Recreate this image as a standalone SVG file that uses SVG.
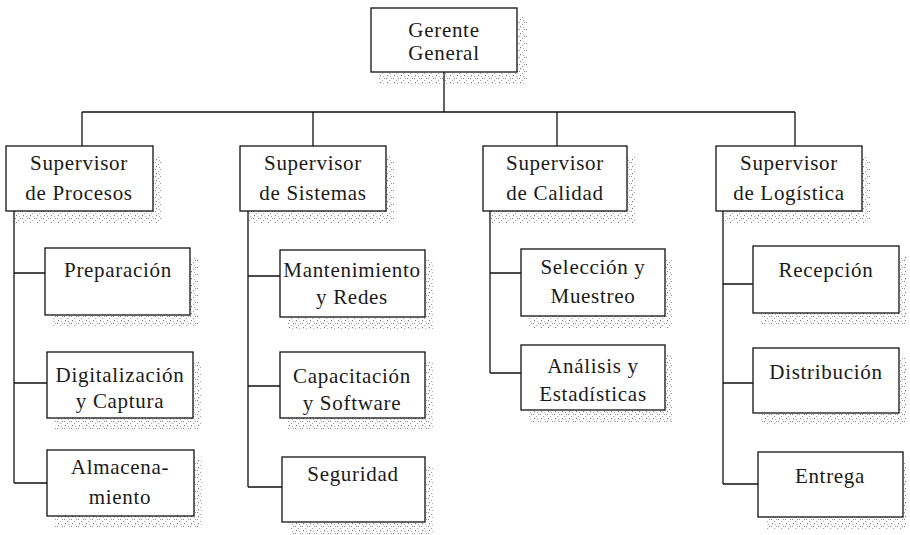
<svg xmlns="http://www.w3.org/2000/svg" width="910" height="535" viewBox="0 0 910 535">
  <defs>
    <pattern id="speckle" width="7" height="7" patternUnits="userSpaceOnUse">
      <rect x="1" y="1" width="1" height="1" fill="#8a8a8a"/>
      <rect x="4" y="3" width="1.2" height="1" fill="#a5a5a5"/>
      <rect x="2" y="5" width="1" height="1.2" fill="#777"/>
      <rect x="5" y="6" width="1" height="1" fill="#b0b0b0"/>
      <rect x="6" y="1" width="1" height="1" fill="#999"/>
    </pattern>
  </defs>
  <style>
    .shadow { fill: url(#speckle); stroke: none; }
    .box { fill: #ffffff; stroke: #111111; stroke-width: 1.3; }
    .lbl { font-family: 'Liberation Serif', 'Times New Roman', 'DejaVu Serif', serif; font-size: 21px; fill: #1a1a1a; text-anchor: middle; letter-spacing: 0.7px; }
    .conn { fill: none; stroke: #111111; stroke-width: 1.3; }
  </style>
  <rect width="910" height="535" fill="#ffffff"/>

  <g id="connectors">
    <path class="conn" d="M444 72 V112 M82 112 H795 M82 112 V146 M313 112 V146 M557 112 V146 M795 112 V146"/>
    <path class="conn" d="M14 211 V483 M14 273 H45 M14 383 H47 M14 483 H47"/>
    <path class="conn" d="M248 211 V487 M248 276 H280 M248 386 H280 M248 487 H282"/>
    <path class="conn" d="M490 211 V373 M490 273 H521 M490 373 H521"/>
    <path class="conn" d="M723 211 V484 M723 284 H753 M723 383 H753 M723 484 H758"/>
  </g>

  <g id="gerente">
    <rect class="shadow" x="379" y="16" width="148" height="69"/>
    <rect class="box" x="371" y="8" width="146" height="64"/>
    <text class="lbl" font-family="Liberation Serif, serif" x="444" y="37">Gerente</text>
    <text class="lbl" font-family="Liberation Serif, serif" x="444" y="60">General</text>
  </g>

  <g id="sup-procesos">
    <rect class="shadow" x="14" y="156" width="147" height="67"/>
    <rect class="box" x="6" y="146" width="147" height="65"/>
    <text class="lbl" font-family="Liberation Serif, serif" x="79" y="170">Supervisor</text>
    <text class="lbl" font-family="Liberation Serif, serif" x="79" y="200">de Procesos</text>
  </g>
  <g id="sup-sistemas">
    <rect class="shadow" x="248" y="156" width="146" height="67"/>
    <rect class="box" x="240" y="146" width="146" height="65"/>
    <text class="lbl" font-family="Liberation Serif, serif" x="313" y="170">Supervisor</text>
    <text class="lbl" font-family="Liberation Serif, serif" x="313" y="200">de Sistemas</text>
  </g>
  <g id="sup-calidad">
    <rect class="shadow" x="491" y="156" width="144" height="67"/>
    <rect class="box" x="483" y="146" width="144" height="65"/>
    <text class="lbl" font-family="Liberation Serif, serif" x="555" y="170">Supervisor</text>
    <text class="lbl" font-family="Liberation Serif, serif" x="555" y="200">de Calidad</text>
  </g>
  <g id="sup-logistica">
    <rect class="shadow" x="724" y="156" width="146" height="67"/>
    <rect class="box" x="716" y="146" width="146" height="65"/>
    <text class="lbl" font-family="Liberation Serif, serif" x="789" y="170">Supervisor</text>
    <text class="lbl" font-family="Liberation Serif, serif" x="789" y="200">de Logística</text>
  </g>

  <g id="preparacion">
    <rect class="shadow" x="53" y="258" width="145" height="69"/>
    <rect class="box" x="45" y="248" width="145" height="67"/>
    <text class="lbl" font-family="Liberation Serif, serif" x="118" y="277">Preparación</text>
  </g>
  <g id="digitalizacion">
    <rect class="shadow" x="55" y="362" width="146" height="68"/>
    <rect class="box" x="47" y="352" width="146" height="66"/>
    <text class="lbl" font-family="Liberation Serif, serif" x="120" y="382">Digitalización</text>
    <text class="lbl" font-family="Liberation Serif, serif" x="120" y="408">y Captura</text>
  </g>
  <g id="almacenamiento">
    <rect class="shadow" x="55" y="460" width="147" height="68"/>
    <rect class="box" x="47" y="450" width="147" height="66"/>
    <text class="lbl" font-family="Liberation Serif, serif" x="120" y="474">Almacena-</text>
    <text class="lbl" font-family="Liberation Serif, serif" x="120" y="504">miento</text>
  </g>

  <g id="mantenimiento">
    <rect class="shadow" x="288" y="260" width="145" height="69"/>
    <rect class="box" x="280" y="250" width="145" height="67"/>
    <text class="lbl" font-family="Liberation Serif, serif" x="352" y="277">Mantenimiento</text>
    <text class="lbl" font-family="Liberation Serif, serif" x="352" y="304">y Redes</text>
  </g>
  <g id="capacitacion">
    <rect class="shadow" x="288" y="362" width="145" height="68"/>
    <rect class="box" x="280" y="352" width="145" height="66"/>
    <text class="lbl" font-family="Liberation Serif, serif" x="352" y="383">Capacitación</text>
    <text class="lbl" font-family="Liberation Serif, serif" x="352" y="410">y Software</text>
  </g>
  <g id="seguridad">
    <rect class="shadow" x="290" y="467" width="143" height="67"/>
    <rect class="box" x="282" y="457" width="143" height="65"/>
    <text class="lbl" font-family="Liberation Serif, serif" x="353" y="481">Seguridad</text>
  </g>

  <g id="seleccion">
    <rect class="shadow" x="529" y="259" width="144" height="69"/>
    <rect class="box" x="521" y="249" width="144" height="67"/>
    <text class="lbl" font-family="Liberation Serif, serif" x="593" y="274">Selección y</text>
    <text class="lbl" font-family="Liberation Serif, serif" x="593" y="303">Muestreo</text>
  </g>
  <g id="analisis">
    <rect class="shadow" x="529" y="355" width="144" height="67"/>
    <rect class="box" x="521" y="345" width="144" height="65"/>
    <text class="lbl" font-family="Liberation Serif, serif" x="593" y="373">Análisis y</text>
    <text class="lbl" font-family="Liberation Serif, serif" x="593" y="401">Estadísticas</text>
  </g>

  <g id="recepcion">
    <rect class="shadow" x="761" y="256" width="146" height="69"/>
    <rect class="box" x="753" y="246" width="146" height="67"/>
    <text class="lbl" font-family="Liberation Serif, serif" x="826" y="277">Recepción</text>
  </g>
  <g id="distribucion">
    <rect class="shadow" x="761" y="358" width="146" height="67"/>
    <rect class="box" x="753" y="348" width="146" height="65"/>
    <text class="lbl" font-family="Liberation Serif, serif" x="826" y="379">Distribución</text>
  </g>
  <g id="entrega">
    <rect class="shadow" x="766" y="462" width="140" height="67"/>
    <rect class="box" x="758" y="452" width="145" height="65"/>
    <text class="lbl" font-family="Liberation Serif, serif" x="830" y="483">Entrega</text>
  </g>
</svg>
